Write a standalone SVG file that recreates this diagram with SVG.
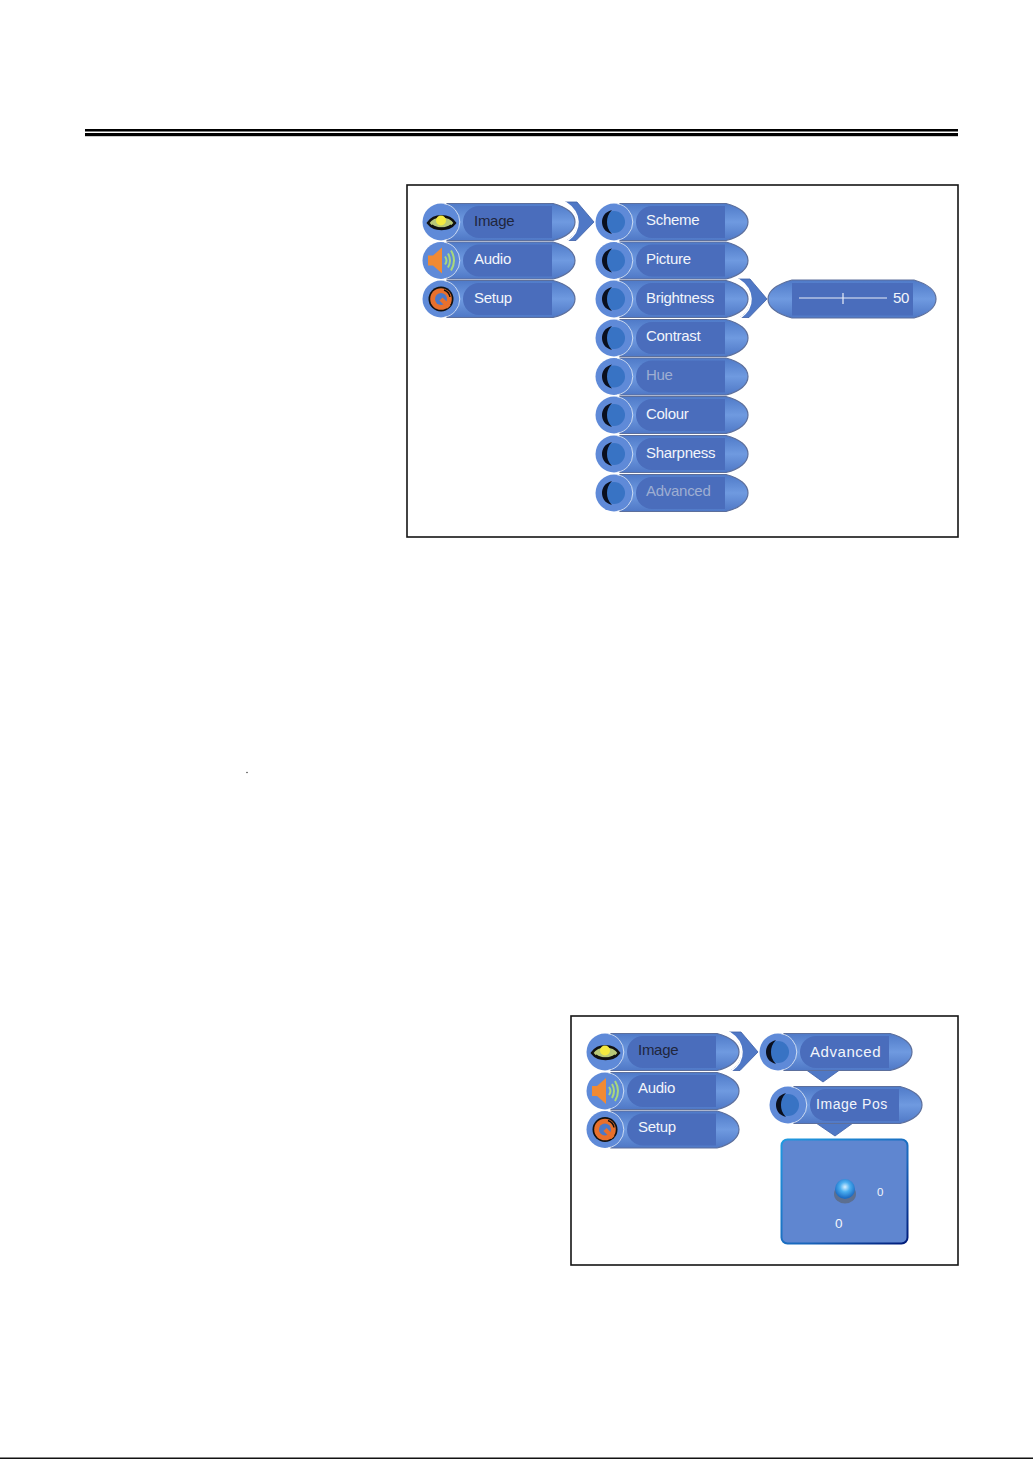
<svg xmlns="http://www.w3.org/2000/svg" width="1033" height="1459" viewBox="0 0 1033 1459">
<style>
text{font-family:"Liberation Sans",Arial,sans-serif;font-size:15px;fill:#f2f5fb;letter-spacing:-.28px}
.dim{fill:#9eaed2}
.sel{fill:#20263c}
.wide{letter-spacing:.55px}
.frame{fill:#fff;stroke:#141414;stroke-width:1.6}
.chev{fill:#4f78c6;stroke:#3d5fa6;stroke-width:.8}
</style>
<defs>
<linearGradient id="tip" x1="0" y1="0" x2="0" y2="1"><stop offset="0" stop-color="#4f7ac8"/><stop offset=".5" stop-color="#6f9ae0"/><stop offset="1" stop-color="#4f78c6"/></linearGradient>
<linearGradient id="edge" x1="0" y1="0" x2="1" y2="1"><stop offset="0" stop-color="#1f9ae0"/><stop offset=".6" stop-color="#1a66bb"/><stop offset="1" stop-color="#001a78"/></linearGradient>
<radialGradient id="ball" cx=".5" cy=".4" r=".55"><stop offset="0" stop-color="#d8f0ff"/><stop offset=".45" stop-color="#4aaef0"/><stop offset="1" stop-color="#1c6cc4"/></radialGradient>
<g id="body">
<path d="M6-18.500H112C126-15 134-8 134 0S126 15 112 18.500H6L12 0Z" fill="url(#tip)" stroke="#5c6f9c" stroke-width="1.200"/>
<path d="M38-16H111V16H38A16 16 0 0 1 38-16Z" fill="#4a6dbc"/>
<circle r="18.500" fill="#5f8ad8"/>
<path d="M3-18.300A18.500 18.500 0 0 1 3 18.300" fill="none" stroke="#e6edf8" stroke-width=".8"/>
</g>
<g id="moon">
<circle r="11" fill="#3873c4"/>
<path d="M-2-12C-10-10-12-4-12 0S-10 10-2 12C-6 8-7 4-7 0S-6-8-2-12Z" fill="#0a0f1e"/>
</g>
<g id="eye">
<path d="M-13 1C-7-8 8-8 14 1C8 9-7 9-13 1Z" fill="#b8c878" stroke="#111" stroke-width="2.400"/>
<path d="M-9 3C-4 7 5 7 10 3" fill="none" stroke="#111" stroke-width="1.600"/>
<circle cy="-1.500" r="5" fill="#f4ea40"/>
</g>
<g id="speaker">
<path d="M-13-5H-8L1-13V13L-8 5H-13Z" fill="#f08a34"/>
<path d="M4-4Q7 0 4 4M7-7Q11 0 7 7M10-10Q16 0 10 10" fill="none" stroke="#a9d87c" stroke-width="2"/>
</g>
<g id="setup">
<circle r="12.500" fill="#111"/>
<circle r="10.800" fill="#e8702c"/>
<circle r="6" fill="#4a78c8"/>
<path d="M0 0L8 8" stroke="#e8702c" stroke-width="4.500" fill="none"/>
<path d="M9-2A9 9 0 0 0 3-9" stroke="#111" stroke-width="1.400" fill="none"/>
</g>
<path id="chevron" d="M124-20H136L153 0L135 18.500H126C141 9 141-9 124-20Z" class="chev"/>
<path id="chevarc" d="M124-20C141-9 141 9 126 19" fill="none" stroke="#fff" stroke-width="1.600"/>
</defs>
<rect width="1033" height="1459" fill="#fff"/>
<g id="page-rule">
<rect x="85" y="129" width="873" height="2.500" fill="#000"/>
<rect x="85" y="133" width="873" height="3.200" fill="#000"/>
<circle cx="247" cy="772.500" r=".7" fill="#222"/>
<rect x="0" y="1457.500" width="1033" height="1.500" fill="#111"/>
</g>
<rect id="frame-1" class="frame" x="407" y="185" width="551" height="352"/>
<rect id="frame-2" class="frame" x="571" y="1016" width="387" height="249"/>

<g id="connectors">
<use href="#chevron" x="441" y="222"/><use href="#chevarc" x="441" y="222"/>
<use href="#chevron" x="614" y="299"/><use href="#chevarc" x="614" y="299"/>
<use href="#chevron" x="605" y="1052"/><use href="#chevarc" x="605" y="1052"/>
<path class="chev" d="M805 1069H841L823 1082Z"/>
<path class="chev" d="M816 1123H853L835 1136Z"/>
</g>

<g id="m1-image"><use href="#body" x="441" y="222"/><use href="#eye" x="441" y="222"/><text class="sel" x="474" y="225.500">Image</text></g>
<g id="m1-audio"><use href="#body" x="441" y="260.500"/><use href="#speaker" x="441" y="260.500"/><text x="474" y="263.500">Audio</text></g>
<g id="m1-setup"><use href="#body" x="441" y="299"/><use href="#setup" x="441" y="299"/><text x="474" y="302.500">Setup</text></g>

<g id="s-scheme"><use href="#body" x="614" y="222"/><use href="#moon" x="614" y="222"/><text x="646" y="225">Scheme</text></g>
<g id="s-picture"><use href="#body" x="614" y="260.500"/><use href="#moon" x="614" y="260.500"/><text x="646" y="263.500">Picture</text></g>
<g id="s-brightness"><use href="#body" x="614" y="299"/><use href="#moon" x="614" y="299"/><text x="646" y="302.500">Brightness</text></g>
<g id="s-contrast"><use href="#body" x="614" y="338"/><use href="#moon" x="614" y="338"/><text x="646" y="341">Contrast</text></g>
<g id="s-hue"><use href="#body" x="614" y="376.500"/><use href="#moon" x="614" y="376.500"/><text class="dim" x="646" y="380">Hue</text></g>
<g id="s-colour"><use href="#body" x="614" y="415"/><use href="#moon" x="614" y="415"/><text x="646" y="418.500">Colour</text></g>
<g id="s-sharpness"><use href="#body" x="614" y="454"/><use href="#moon" x="614" y="454"/><text x="646" y="457.500">Sharpness</text></g>
<g id="s-advanced"><use href="#body" x="614" y="493"/><use href="#moon" x="614" y="493"/><text class="dim" x="646" y="496">Advanced</text></g>

<g id="slider">
<path d="M792 280H914C928 284 936 291 936 299S928 314 914 318H792C778 314 768 308 768 299S778 284 792 280Z" fill="url(#tip)" stroke="#5c6f9c" stroke-width="1.200"/>
<rect x="792" y="283" width="121" height="32.500" fill="#4a6dbc"/>
<path d="M799 298H887M843 293V304" stroke="#e8edf8" stroke-width="1.200" fill="none"/>
<text x="893" y="303">50</text>
</g>

<g id="m2-image"><use href="#body" x="605" y="1052"/><use href="#eye" x="605" y="1052"/><text class="sel" x="638" y="1055">Image</text></g>
<g id="m2-audio"><use href="#body" x="605" y="1091"/><use href="#speaker" x="605" y="1091"/><text x="638" y="1093">Audio</text></g>
<g id="m2-setup"><use href="#body" x="605" y="1129.500"/><use href="#setup" x="605" y="1129.500"/><text x="638" y="1132">Setup</text></g>

<g id="m2-advanced"><use href="#body" x="778" y="1052"/><use href="#moon" x="778" y="1052"/><text class="wide" x="810" y="1057">Advanced</text></g>
<g id="m2-imagepos"><use href="#body" x="788" y="1105"/><use href="#moon" x="788" y="1105"/><text class="wide" style="font-size:14px" x="816" y="1109">Image Pos</text></g>

<g id="pos-panel">
<rect x="781.500" y="1139.500" width="126" height="104" rx="6" fill="#5f86d0" stroke="url(#edge)" stroke-width="2"/>
<ellipse cx="845" cy="1194" rx="11" ry="9.500" fill="#5c6f90"/>
<circle cx="845" cy="1189" r="10" fill="url(#ball)"/>
<text x="877" y="1196" style="font-size:11.500px">0</text>
<text x="835" y="1228" style="font-size:13.500px">0</text>
</g>
</svg>
